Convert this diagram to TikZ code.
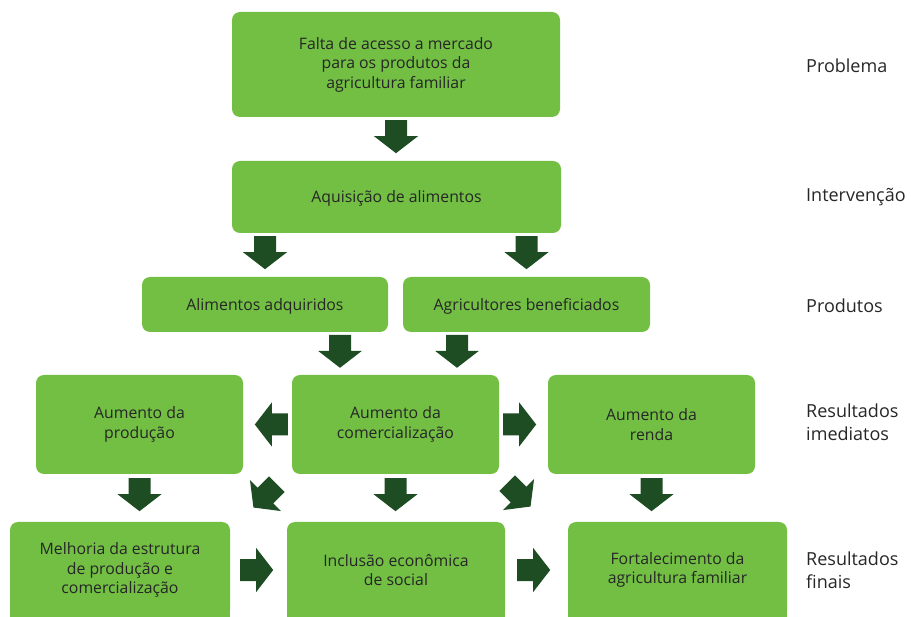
\documentclass[tikz,border=0pt]{standalone}
\usepackage{fontspec}
\setmainfont{Open Sans}
\usetikzlibrary{calc,backgrounds}
\definecolor{boxgreen}{RGB}{114,191,68}
\definecolor{arrowgreen}{RGB}{30,76,35}
\definecolor{ink}{RGB}{38,38,38}
\tikzset{
  stage/.style={fill=boxgreen, rounded corners=8pt, align=center, text=ink,
    font=\fontsize{15.8}{19.5}\selectfont, inner sep=0pt},
  oneline/.style={text depth=0pt},
  level/.style={anchor=west, align=left, text=ink,
    font=\fontsize{18}{23}\selectfont, inner sep=0pt},
  % block arrow, tail at the origin, pointing down
  barrow/.pic={\fill[arrowgreen] (-11,0) -- (11,0) -- (11,16) -- (22,16)
    -- (0,33) -- (-22,16) -- (-11,16) -- cycle;},
}
\begin{document}
\begin{tikzpicture}[x=1pt,y=-1pt]
\useasboundingbox (0,0) rectangle (911,617);
\clip (0,0) rectangle (911,617);

% problem and intervention
\node[stage, minimum width=328pt, minimum height=105pt] (prob) at (396,64.5)
  {Falta de acesso a mercado\\para os produtos da\\agricultura familiar};
\node[stage, oneline, minimum width=329pt, minimum height=72pt] (aq) at (396.5,197)
  {Aquisição de alimentos};

% products
\node[stage, oneline, minimum width=246pt, minimum height=55pt] (alim) at (265,304.5)
  {Alimentos adquiridos};
\node[stage, oneline, minimum width=247pt, minimum height=55pt] (agri) at (526.5,304.5)
  {Agricultores beneficiados};

% immediate results
\node[stage, minimum width=207pt, minimum height=99pt] (prod) at (139.5,424.5)
  {Aumento da\\produção};
\node[stage, minimum width=207pt, minimum height=99pt] (com) at (395.5,424.5)
  {Aumento da\\comercialização};
\node[stage, minimum width=207pt, minimum height=99pt] (renda) at (651.5,424.5)
  {Aumento da\\renda};

% final results (boxes run off the lower edge)
\node[stage, minimum width=220pt, minimum height=96pt] (melh) at (120,570)
  {Melhoria da estrutura\\de produção e\\comercialização};
\node[stage, minimum width=218pt, minimum height=96pt] (incl) at (396,570)
  {Inclusão econômica\\de social};
\node[stage, minimum width=219pt, minimum height=96pt] (fort) at (677.5,570)
  {Fortalecimento da\\agricultura familiar};
\begin{scope}[on background layer]
  \foreach \b in {melh,incl,fort}
    \fill[boxgreen] (\b.west) rectangle ($(\b.south east)+(0,20)$);
\end{scope}

% level labels
\node[level] (lprob) at (806,66) {Problema};
\node[level] (lint) at (806,197) {Intervenção};
\node[level] (lprodut) at (806,306) {Produtos};
\node[level] (limed) at (806,422.5) {Resultados\\imediatos};
\node[level] (lfin) at (806,570) {Resultados\\finais};

% block arrows
\pic at ($(prob.south)+(0,3)$) {barrow};
\pic at ($(alim.north |- aq.south)+(0,3)$) {barrow};
\pic at ($(agri.north |- aq.south)+(0,3)$) {barrow};
\pic at ($(com.north)+(-55.5,-40)$) {barrow};
\pic at ($(com.north)+(61.5,-40)$) {barrow};
\pic[rotate=-90] at ($(com.west)+(-4,0)$) {barrow};
\pic[rotate=90] at ($(com.east)+(4,0)$) {barrow};
\pic at ($(prod.south)+(0,4)$) {barrow};
\pic at ($(com.south)+(0,4)$) {barrow};
\pic at ($(renda.south)+(0,4)$) {barrow};
\pic[rotate=-45] at ($(com.south west)+(-15,10)$) {barrow};
\pic[rotate=45] at ($(com.south east)+(8,9)$) {barrow};
\pic[rotate=90] at ($(melh.east)+(10,0)$) {barrow};
\pic[rotate=90] at ($(incl.east)+(12,0)$) {barrow};
\end{tikzpicture}
\end{document}
